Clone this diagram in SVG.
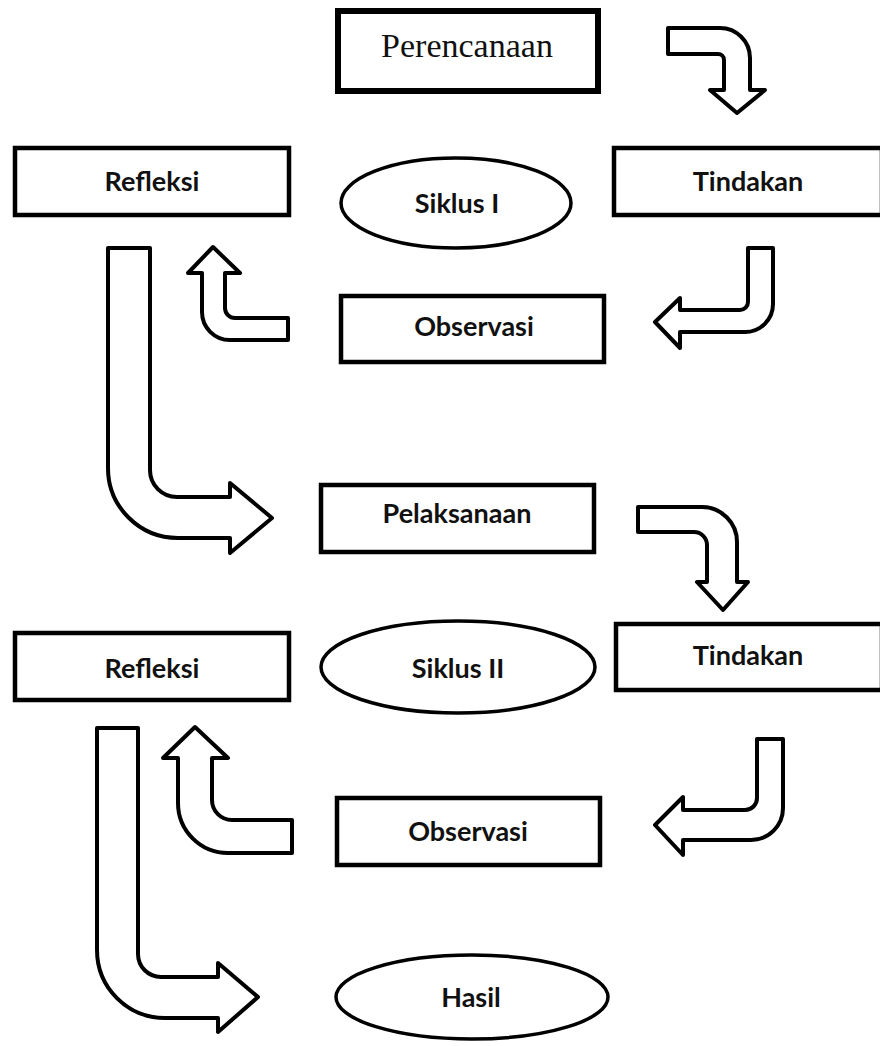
<svg xmlns="http://www.w3.org/2000/svg" width="880" height="1046" viewBox="0 0 880 1046">
<style>
.box{fill:#fff;stroke:#000;stroke-width:4.5}
.ell{fill:#fff;stroke:#000;stroke-width:3.5}
.arr{fill:#fff;stroke:#000;stroke-width:4;stroke-linejoin:round}
.lbl{font-family:Lato,"Open Sans","Liberation Sans",sans-serif;font-weight:bold;font-size:27px;fill:#111;text-anchor:middle}
.ser{font-family:"Liberation Serif","Times New Roman",serif;font-size:34px;fill:#111;text-anchor:middle}
</style>
<rect width="880" height="1046" fill="#fff"/>
<g id="connectors">
<path class="arr" d="M668,28 H720 A30,30 0 0 1 750,58 V90 H765 L737,113 L710,90 H724 V60 A6,6 0 0 0 718,54 H668 Z"/>
<path class="arr" d="M748,248 H773 V304 A28,28 0 0 1 745,332 H680 V348 L655,322 L680,298 V310 H740 A8,8 0 0 0 748,302 Z"/>
<path class="arr" d="M288,318 V340 H230 A28,28 0 0 1 202,312 V273 H188 L213,247 L240,273 H225 V308 A10,10 0 0 0 235,318 Z"/>
<path class="arr" d="M108,248 H150 V470 A27,27 0 0 0 177,497 H230 V483 L272,518 L230,553 V538 H178 A70,70 0 0 1 108,468 Z"/>
<path class="arr" d="M638,507 H702 A35,35 0 0 1 737,542 V582 H748 L723,610 L697,582 H707 V545 A13,13 0 0 0 694,532 H638 Z"/>
<path class="arr" d="M757,739 H783 V808 A32,32 0 0 1 751,840 H683 V855 L655,825 L683,797 V810 H745 A12,12 0 0 0 757,798 Z"/>
<path class="arr" d="M292,820 V853 H228 A50,50 0 0 1 178,803 V758 H163 L195,727 L228,758 H212 V800 A20,20 0 0 0 232,820 Z"/>
<path class="arr" d="M97,728 H138 V954 A23,23 0 0 0 161,977 H218 V963 L258,997 L218,1032 V1018 H165 A68,68 0 0 1 97,950 Z"/>
</g>
<g id="perencanaan">
<rect class="box" x="338" y="11" width="260" height="80" style="stroke-width:6"/>
<text class="ser" x="467" y="57">Perencanaan</text>
</g>
<g id="refleksi1">
<rect class="box" x="15" y="148" width="274" height="67"/>
<text class="lbl" x="152" y="191">Refleksi</text>
</g>
<g id="siklus1">
<ellipse class="ell" cx="456" cy="203" rx="115" ry="45"/>
<text class="lbl" x="457" y="213">Siklus I</text>
</g>
<g id="tindakan1">
<rect class="box" x="614" y="148" width="268" height="67"/>
<text class="lbl" x="748" y="191">Tindakan</text>
</g>
<g id="observasi1">
<rect class="box" x="341" y="296" width="263" height="66"/>
<text class="lbl" x="474" y="336">Observasi</text>
</g>
<g id="pelaksanaan">
<rect class="box" x="321" y="485" width="273" height="67"/>
<text class="lbl" x="457" y="523">Pelaksanaan</text>
</g>
<g id="refleksi2">
<rect class="box" x="15" y="633" width="274" height="67"/>
<text class="lbl" x="152" y="678">Refleksi</text>
</g>
<g id="siklus2">
<ellipse class="ell" cx="458" cy="667" rx="137" ry="46"/>
<text class="lbl" x="458" y="678">Siklus II</text>
</g>
<g id="tindakan2">
<rect class="box" x="616" y="624" width="266" height="66"/>
<text class="lbl" x="748" y="665">Tindakan</text>
</g>
<g id="observasi2">
<rect class="box" x="337" y="798" width="263" height="67"/>
<text class="lbl" x="468" y="841">Observasi</text>
</g>
<g id="hasil">
<ellipse class="ell" cx="472" cy="997" rx="136" ry="42"/>
<text class="lbl" x="471" y="1007">Hasil</text>
</g>
</svg>
